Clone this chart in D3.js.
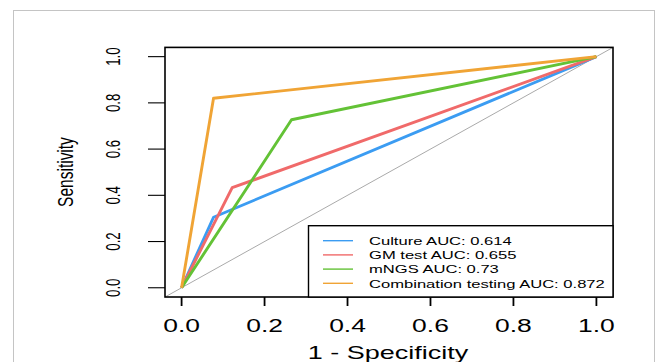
<!DOCTYPE html>
<html>
<head>
<meta charset="utf-8">
<script src="https://cdn.jsdelivr.net/npm/d3@7"></script>
<style>
  html, body { margin: 0; padding: 0; background: #fff; }
  text { font-family: "Liberation Sans", Arial, sans-serif; fill: #000; }
</style>
</head>
<body>
<div id="RocPlot"></div>
<script>
// ROC data: one threshold per test, so each curve is (0,0) -> knee -> (1,1)
const seriesNames = ["Culture", "GM test", "mNGS", "Combination testing"];
const seriesAuc = ["0.614", "0.655", "0.73", "0.872"];
const seriesFpr = [
  [0, 0.077, 1],
  [0, 0.122, 1],
  [0, 0.265, 1],
  [0, 0.077, 1]
];
const seriesSens = [
  [0, 0.305, 1],
  [0, 0.433, 1],
  [0, 0.727, 1],
  [0, 0.82, 1]
];
const seriesColors = ["#3b9cf2", "#f06a6a", "#63c236", "#f0a435"];
const tickValues = [0, 0.2, 0.4, 0.6, 0.8, 1.0];

let plotName = "RocPlot";
let width = 656;
let height = 362;
let sx = 1.47; // the reference is stretched sideways, so is its text

let svg = d3
  .select("#" + plotName)
  .append("svg")
  .attr("width", width)
  .attr("height", height);

// light outer frame
svg
  .append("rect")
  .attr("x", 13.5)
  .attr("y", 10.5)
  .attr("width", 641)
  .attr("height", 360)
  .attr("fill", "none")
  .attr("stroke", "#c4c4c4")
  .attr("stroke-width", 1);

// R style 4% padding around [0,1]
let x = d3.scaleLinear().domain([-0.04, 1.04]).range([165, 613]);
let y = d3.scaleLinear().domain([-0.04, 1.04]).range([297, 47.4]);

let g = svg.append("g").classed(plotName + "Group", true);

// chance diagonal across the whole region
g.append("line")
  .attr("x1", x(-0.04))
  .attr("y1", y(-0.04))
  .attr("x2", x(1.04))
  .attr("y2", y(1.04))
  .style("stroke", "#aaaaaa")
  .style("stroke-width", 1);

let line = d3
  .line()
  .x(d => x(d[0]))
  .y(d => y(d[1]));

seriesNames.forEach((name, i) => {
  let pts = seriesFpr[i].map((f, j) => [f, seriesSens[i][j]]);
  g.append("path")
    .datum(pts)
    .attr("class", plotName + "_curve")
    .attr("d", line)
    .attr("fill", "none")
    .attr("stroke", seriesColors[i])
    .attr("stroke-width", 2.9)
    .attr("stroke-linejoin", "round");
});

// plot box
g.append("rect")
  .attr("x", x(-0.04))
  .attr("y", y(1.04))
  .attr("width", x(1.04) - x(-0.04))
  .attr("height", y(-0.04) - y(1.04))
  .attr("fill", "none")
  .attr("stroke", "#000")
  .attr("stroke-width", 1.6);

// x axis (bottom)
let xAxis = g.append("g").classed("x axis", true);
xAxis
  .selectAll("line")
  .data(tickValues)
  .enter()
  .append("line")
  .attr("x1", d => x(d))
  .attr("x2", d => x(d))
  .attr("y1", y(-0.04))
  .attr("y2", y(-0.04) + 9)
  .style("stroke", "#000")
  .style("stroke-width", 1.8);
xAxis
  .selectAll("text")
  .data(tickValues)
  .enter()
  .append("text")
  .attr("transform", d => "translate(" + x(d) + ",332) scale(" + sx + ",1)")
  .style("text-anchor", "middle")
  .style("font-size", "18px")
  .text(d => d.toFixed(1));
xAxis
  .append("text")
  .attr("transform", "translate(388,359) scale(1.5,1)")
  .style("text-anchor", "middle")
  .style("font-size", "18px")
  .text("1 - Specificity");

// y axis (left), labels rotated like R's default las
let yAxis = g.append("g").classed("y axis", true);
yAxis
  .selectAll("line")
  .data(tickValues)
  .enter()
  .append("line")
  .attr("x1", x(-0.04) - 17)
  .attr("x2", x(-0.04))
  .attr("y1", d => y(d))
  .attr("y2", d => y(d))
  .style("stroke", "#000")
  .style("stroke-width", 1.1);
yAxis
  .selectAll("text")
  .data(tickValues)
  .enter()
  .append("text")
  .attr("transform", d => "translate(120," + y(d) + ") scale(1.55,1) rotate(-90)")
  .style("text-anchor", "middle")
  .style("font-size", "13.2px")
  .text(d => d.toFixed(1));
yAxis
  .append("text")
  .attr("transform", "translate(73,172) scale(1.45,1) rotate(-90)")
  .style("text-anchor", "middle")
  .style("font-size", "15.5px")
  .text("Sensitivity");

// legend, bottom right
let legend = g.append("g").classed(plotName + "_legend", true);
legend
  .append("rect")
  .attr("x", 308.5)
  .attr("y", 225.7)
  .attr("width", x(1.04) - 308.5)
  .attr("height", y(-0.04) - 225.7)
  .attr("fill", "#fff")
  .attr("stroke", "#000")
  .attr("stroke-width", 1.4);

let rows = legend
  .selectAll("." + plotName + "_legendRow")
  .data(seriesNames)
  .enter()
  .append("g")
  .classed(plotName + "_legendRow", true)
  .attr("transform", (d, i) => "translate(0," + (240.7 + i * 14.2) + ")");
rows
  .append("line")
  .attr("x1", 323)
  .attr("x2", 353)
  .attr("y1", 0)
  .attr("y2", 0)
  .style("stroke", (d, i) => seriesColors[i])
  .style("stroke-width", 1.4);
rows
  .append("text")
  .attr("transform", "translate(369,4.2) scale(1.43,1)")
  .style("font-size", "11.6px")
  .text((d, i) => d + " AUC: " + seriesAuc[i]);
</script>
</body>
</html>
